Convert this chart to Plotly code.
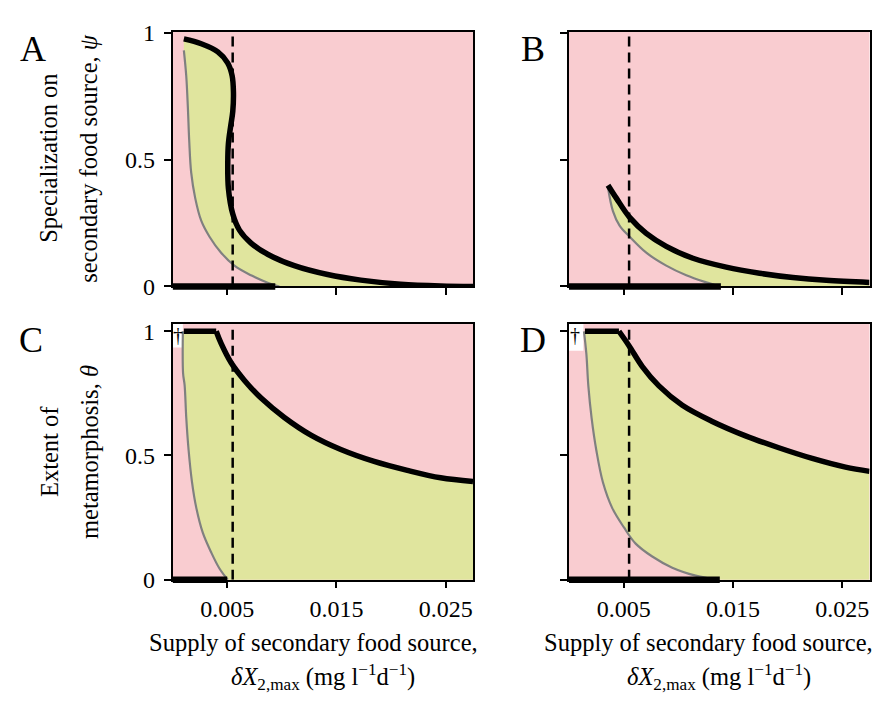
import plotly.graph_objects as go

FONT = "Liberation Serif"
PINK = "rgb(249,204,208)"
GREEN = "rgb(224,229,158)"
GREY = "rgb(128,128,128)"
W, H = 886, 702

# ---------------- data ----------------
x_range = [0, 0.0275]
y_range_top = [0, 1.004]
y_range_bottom = [0, 1.029]
x_tickvals = [0.005, 0.015, 0.025]
x_ticktext = ["0.005", "0.015", "0.025"]
y_tickvals = [0, 0.5, 1]
y_ticktext = ["0", "0.5", "1"]
threshold_x = 0.0055

# Panel A (psi)
A_black_x = [0.00103, 0.00262, 0.00414, 0.00505, 0.00545, 0.00557, 0.00551, 0.0053, 0.00511, 0.00505,
             0.00511, 0.00551, 0.00612, 0.00718, 0.0087, 0.01114, 0.01419, 0.01723, 0.02088, 0.02454, 0.0275]
A_black_y = [0.975, 0.956, 0.924, 0.88, 0.83, 0.766, 0.69, 0.627, 0.563, 0.487,
             0.386, 0.285, 0.222, 0.171, 0.127, 0.082, 0.047, 0.025, 0.009, 0.002, 0.0]
A_grey_x = [0.00103, 0.00125, 0.0014, 0.00152, 0.0017, 0.00207, 0.00262, 0.00338, 0.00444, 0.00566,
            0.00718, 0.0087, 0.00977]
A_grey_y = [0.93, 0.829, 0.703, 0.576, 0.449, 0.348, 0.259, 0.196, 0.133, 0.082, 0.044, 0.015, 0.0]
A_bar_end = 0.0094

# Panel B (psi)
B_black_x = [0.00357, 0.00433, 0.00555, 0.00707, 0.0089, 0.01134, 0.01439, 0.01744, 0.02049, 0.02354, 0.0275]
B_black_y = [0.399, 0.348, 0.272, 0.209, 0.158, 0.111, 0.076, 0.052, 0.035, 0.024, 0.016]
B_grey_x = [0.00357, 0.00402, 0.00463, 0.00555, 0.00707, 0.0089, 0.01073, 0.01256, 0.01378]
B_grey_y = [0.39, 0.297, 0.24, 0.196, 0.133, 0.082, 0.044, 0.016, 0.0]
B_bar_end = 0.0139

# Panel C (theta)
C_black_x = [0.00103, 0.00399, 0.00444, 0.00536, 0.00658, 0.0081, 0.01023, 0.01266, 0.0154, 0.01845,
             0.02149, 0.02454, 0.0275]
C_black_y = [1.0, 1.0, 0.951, 0.873, 0.802, 0.731, 0.653, 0.582, 0.524, 0.476, 0.44, 0.41, 0.395]
C_grey_x = [0.00094, 0.00096, 0.0011, 0.00125, 0.00146, 0.00177, 0.00216, 0.00277, 0.00353, 0.00429, 0.00505]
C_grey_y = [1.0, 0.83, 0.783, 0.653, 0.524, 0.395, 0.291, 0.188, 0.11, 0.045, 0.0]
C_bar_end = 0.005
C_white_x = [0, 0.00094]
C_white_y = [0.935, 1.029]

# Panel D (theta)
D_black_x = [0.00146, 0.00457, 0.00549, 0.00671, 0.00823, 0.01037, 0.01311, 0.01616, 0.0192, 0.02226,
             0.0253, 0.0275]
D_black_y = [1.0, 1.0, 0.942, 0.858, 0.78, 0.702, 0.637, 0.579, 0.531, 0.488, 0.453, 0.436]
D_grey_x = [0.00137, 0.00159, 0.00177, 0.00207, 0.0025, 0.00311, 0.00396, 0.00503, 0.0061, 0.00762,
            0.00945, 0.01159, 0.01311, 0.0137]
D_grey_y = [1.0, 0.909, 0.78, 0.65, 0.521, 0.391, 0.288, 0.21, 0.145, 0.093, 0.048, 0.016, 0.003, 0.0]
D_bar_end = 0.0138
D_white_x = [0, 0.00132]
D_white_y = [0.922, 1.029]

panels = [
    dict(key="A", ax="", bx=A_black_x, by=A_black_y, gx=A_grey_x, gy=A_grey_y, bar=A_bar_end,
         flat=0, white=None, yr=y_range_top),
    dict(key="B", ax="2", bx=B_black_x, by=B_black_y, gx=B_grey_x, gy=B_grey_y, bar=B_bar_end,
         flat=0, white=None, yr=y_range_top),
    dict(key="C", ax="3", bx=C_black_x, by=C_black_y, gx=C_grey_x, gy=C_grey_y, bar=C_bar_end,
         flat=2, white=(C_white_x, C_white_y), yr=y_range_bottom),
    dict(key="D", ax="4", bx=D_black_x, by=D_black_y, gx=D_grey_x, gy=D_grey_y, bar=D_bar_end,
         flat=2, white=(D_white_x, D_white_y), yr=y_range_bottom),
]

BLACK_W = 5.5
fig = go.Figure()
shapes = []
for p in panels:
    xa, ya = "x" + p["ax"], "y" + p["ax"]
    common = dict(xaxis=xa, yaxis=ya, showlegend=False, hoverinfo="skip")
    # lower boundary of the green region (grey curve, then along zero)
    fig.add_trace(go.Scatter(x=p["gx"] + [x_range[1]], y=p["gy"] + [0], mode="lines",
                             line=dict(width=0, shape="spline", color=GREEN), **common))
    # upper boundary (black curve) filling to the lower boundary
    fig.add_trace(go.Scatter(x=p["bx"], y=p["by"], mode="lines", fill="tonexty", fillcolor=GREEN,
                             line=dict(width=0, shape="spline", color=GREEN), **common))
    if p["white"] is not None:
        wx, wy = p["white"]
        fig.add_trace(go.Scatter(x=[wx[0], wx[1], wx[1], wx[0], wx[0]],
                                 y=[wy[0], wy[0], wy[1], wy[1], wy[0]],
                                 mode="lines", fill="toself", fillcolor="white",
                                 line=dict(width=0, color="white"), **common))
    # grey curve
    fig.add_trace(go.Scatter(x=p["gx"], y=p["gy"], mode="lines",
                             line=dict(width=2.2, shape="spline", color=GREY), **common))
    # dashed threshold
    fig.add_trace(go.Scatter(x=[threshold_x, threshold_x], y=[0, p["yr"][1]], mode="lines",
                             line=dict(width=2.5, color="black", dash="10px,6px"), **common))
    # black curve
    f = p["flat"]
    if f:
        fig.add_trace(go.Scatter(x=p["bx"][:f], y=p["by"][:f], mode="lines",
                                 line=dict(width=BLACK_W, color="black"), **common))
        fig.add_trace(go.Scatter(x=p["bx"][f - 1:], y=p["by"][f - 1:], mode="lines",
                                 line=dict(width=BLACK_W, shape="spline", color="black"), **common))
    else:
        fig.add_trace(go.Scatter(x=p["bx"], y=p["by"], mode="lines",
                                 line=dict(width=BLACK_W, shape="spline", color="black"), **common))
    # thick bar on zero (shape so it is only clipped horizontally)
    shapes.append(dict(type="line", xref=xa, yref=ya + " domain", x0=0, x1=p["bar"], y0=0, y1=0,
                       line=dict(color="black", width=6.5), layer="above"))

dom_x_left = [164.6 / W, 465.0 / W]
dom_x_right = [561.0 / W, 861.5 / W]
dom_y_top = [1 - 276.3 / H, 1 - 12.0 / H]
dom_y_bottom = [1 - 580.3 / H, 1 - 315.3 / H]

axis_common = dict(showline=True, mirror=True, linecolor="black", linewidth=1.5, ticks="outside",
                   ticklen=7, tickwidth=1.5, tickcolor="black", showgrid=False, zeroline=False,
                   tickfont=dict(family=FONT, size=24, color="black"))

layout_axes = {}
for p, dx, dy, show_x, show_y in [
    (panels[0], dom_x_left, dom_y_top, False, True),
    (panels[1], dom_x_right, dom_y_top, False, False),
    (panels[2], dom_x_left, dom_y_bottom, True, True),
    (panels[3], dom_x_right, dom_y_bottom, True, False),
]:
    s = p["ax"]
    layout_axes["xaxis" + s] = dict(domain=dx, range=x_range, anchor="y" + s, tickvals=x_tickvals,
                                    ticktext=x_ticktext, showticklabels=show_x, **axis_common)
    layout_axes["yaxis" + s] = dict(domain=dy, range=p["yr"], anchor="x" + s, tickvals=y_tickvals,
                                    ticktext=y_ticktext, showticklabels=show_y,
                                    ticklabelstandoff=4, **axis_common)

def pa(x, y, text, size=24.5, angle=0, xanchor="center"):
    return dict(x=x / W, y=1 - y / H, xref="paper", yref="paper", text=text, showarrow=False,
                font=dict(family=FONT, size=size, color="black"), textangle=angle,
                xanchor=xanchor, yanchor="middle")

annotations = [
    pa(25, 30, "A", 36), pa(525, 30, "B", 36), pa(23, 332, "C", 36), pa(525, 332, "D", 36),
    pa(41, 144, "Specialization on", angle=-90),
    pa(81, 144, "secondary food source, <i>ψ</i>", angle=-90),
    pa(41, 448, "Extent of", angle=-90),
    pa(81, 448, "metamorphosis, <i>θ</i>", angle=-90),
    pa(305, 645, "Supply of secondary food source,"),
    pa(315, 681, "<i>δX</i><sub>2,max</sub> (mg l<sup>−1</sup>d<sup>−1</sup>)"),
    pa(700, 645, "Supply of secondary food source,"),
    pa(711, 681, "<i>δX</i><sub>2,max</sub> (mg l<sup>−1</sup>d<sup>−1</sup>)"),
    dict(x=0.00049, y=0.985, xref="x3", yref="y3", text="†", showarrow=False,
         font=dict(family=FONT, size=20, color="black")),
    dict(x=0.00058, y=0.985, xref="x4", yref="y4", text="†", showarrow=False,
         font=dict(family=FONT, size=20, color="black")),
]

fig.update_layout(width=W, height=H, margin=dict(l=0, r=0, t=0, b=0), paper_bgcolor="white",
                  plot_bgcolor=PINK, font=dict(family=FONT, size=24, color="black"),
                  annotations=annotations, shapes=shapes, **layout_axes)

fig.write_html("out.html")
